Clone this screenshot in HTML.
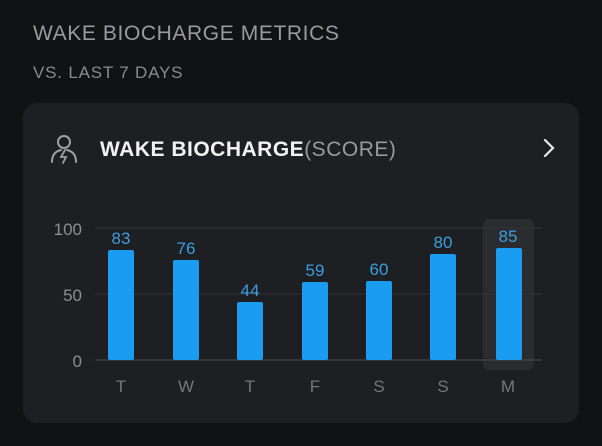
<!DOCTYPE html>
<html><head><style>
body{margin:0;width:602px;height:446px;background:#111214;font-family:"Liberation Sans",sans-serif;overflow:hidden;position:relative}
.t{position:absolute;color:#9a9a9e}
</style></head><body>
<div class="t" style="left:33px;top:22px;font-size:21px;letter-spacing:0.6px">WAKE BIOCHARGE METRICS</div>
<div class="t" style="left:33px;top:63px;font-size:17px;letter-spacing:0.8px;color:#8a8a8e">VS. LAST 7 DAYS</div>
<div style="position:absolute;left:23px;top:103px;width:556px;height:320px;background:#1e1f22;border-radius:14px"></div>
<svg style="position:absolute;left:0;top:0" width="602" height="446">
<g fill="none" stroke="#a0a0a4" stroke-width="2" stroke-linecap="round">
<circle cx="64" cy="142" r="6"/>
<path d="M52 162 q0-10 9-12 M76 162 q0-10-9-12"/>
<path d="M65 150 l-4 7 h5 l-3 6" stroke-width="1.8"/>
</g>
<text x="100" y="156" fill="#f2f2f4" font-size="21" letter-spacing="0.5" font-weight="bold" font-family="Liberation Sans">WAKE BIOCHARGE<tspan fill="#9a9a9e" font-weight="normal">(SCORE)</tspan></text>
<path d="M545 140 l8 8 l-8 8" fill="none" stroke="#e8e8ea" stroke-width="2.2" stroke-linecap="round"/>
<rect x="483" y="219" width="51" height="151" rx="6" fill="#2b2c2f"/>
<g stroke="#333438" stroke-width="1">
<line x1="95" y1="228" x2="542" y2="228"/><line x1="95" y1="294" x2="542" y2="294"/>
</g>
<line x1="95" y1="360" x2="542" y2="360" stroke="#4a4b4f" stroke-width="1"/>
<g fill="#8e8e92" font-size="17" text-anchor="end" font-family="Liberation Sans">
<text x="82" y="235">100</text><text x="82" y="301">50</text><text x="82" y="367">0</text></g>
<g fill="#1a9cf0">
<rect x="108" y="250" width="26" height="110" rx="2"/>
<rect x="173" y="260" width="26" height="100" rx="2"/>
<rect x="237" y="302" width="26" height="58" rx="2"/>
<rect x="302" y="282" width="26" height="78" rx="2"/>
<rect x="366" y="281" width="26" height="79" rx="2"/>
<rect x="430" y="254" width="26" height="106" rx="2"/>
<rect x="496" y="248" width="26" height="112" rx="2"/>
</g>
<g fill="#3b9de0" font-size="17" text-anchor="middle" font-family="Liberation Sans">
<text x="121" y="244">83</text><text x="186" y="254">76</text><text x="250" y="296">44</text>
<text x="315" y="276">59</text><text x="379" y="275">60</text><text x="443" y="248">80</text><text x="508" y="242">85</text></g>
<g fill="#76767a" font-size="17" text-anchor="middle" font-family="Liberation Sans">
<text x="121" y="392">T</text><text x="186" y="392">W</text><text x="250" y="392">T</text><text x="315" y="392">F</text><text x="379" y="392">S</text><text x="443" y="392">S</text><text x="508" y="392">M</text></g>
</svg>
</body></html>
